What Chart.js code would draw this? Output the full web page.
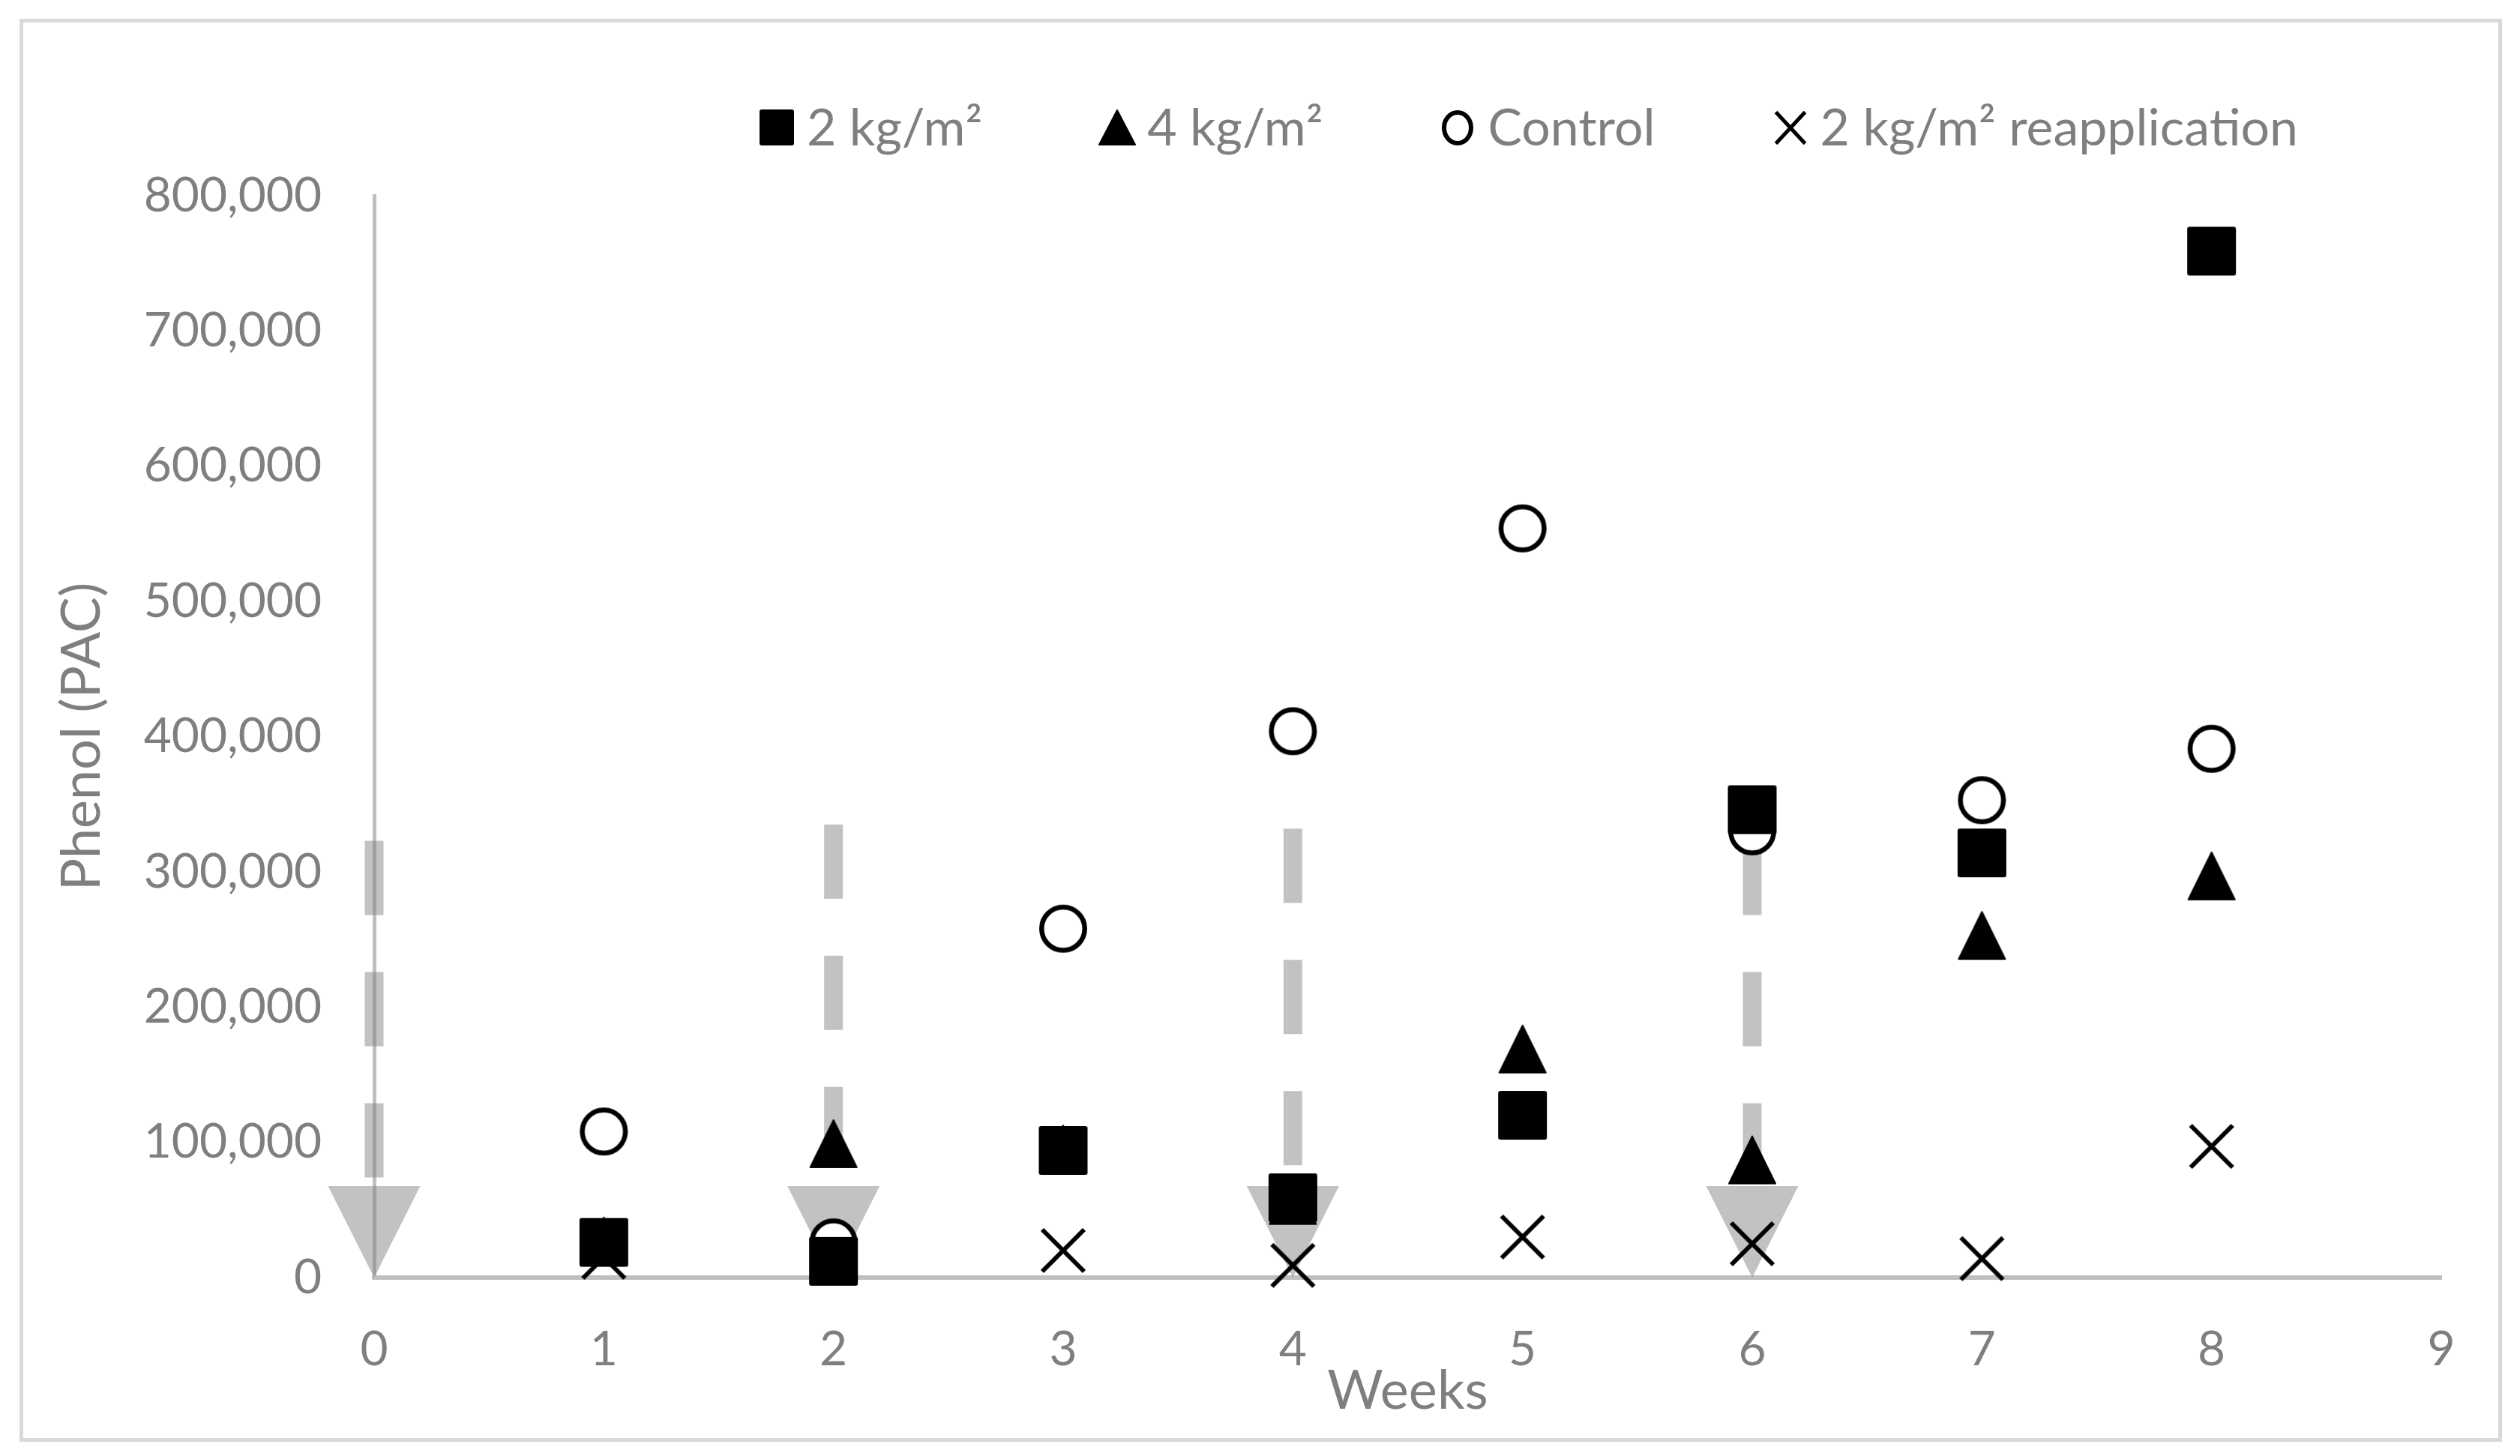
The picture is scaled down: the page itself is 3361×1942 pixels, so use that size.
<!DOCTYPE html>
<html>
<head>
<meta charset="utf-8">
<script src="https://cdn.jsdelivr.net/npm/chart.js@4.4.1/dist/chart.umd.min.js"></script>
<style>
  html, body { margin: 0; padding: 0; background: #fff; }
  canvas { display: block; }
</style>
</head>
<body>
<canvas id="phenolChart" width="3361" height="1942"></canvas>
<script>
// values (phenol, PAC)
const weeks = [1, 2, 3, 4, 5, 6, 7, 8];
const phenol2kg = [26000, 12000, 94000, 59000, 120000, 346000, 314000, 759000];
const phenol4kg = [27000, 99000, 95000, 57000, 169000, 87000, 253000, 297000];
const phenolControl = [108000, 26000, 258000, 404000, 554000, 330000, 353000, 391000];
const phenolReapp = [15000, null, 20000, 9000, 30000, 25000, 14000, 97000];

const seriesNames = ['2 kg/m²', '4 kg/m²', 'Control', '2 kg/m² reapplication'];
const xTicks = [0, 1, 2, 3, 4, 5, 6, 7, 8, 9];
const yTicks = [0, 100000, 200000, 300000, 400000, 500000, 600000, 700000, 800000];

// weeks when biochar was applied (grey arrows) and where each arrow starts
const applicationWeeks = [0, 2, 4, 6];
const applicationTops = [323000, 335000, 332000, 323000];

const GREY_TEXT = '#7f7f7f';

function makeMarker(kind, w, h, line) {
  const c = document.createElement('canvas');
  c.width = Math.ceil(w) + 4;
  c.height = Math.ceil(h) + 4;
  const g = c.getContext('2d');
  g.translate(c.width / 2, c.height / 2);
  g.fillStyle = '#000';
  g.strokeStyle = '#000';
  g.lineWidth = line;
  if (kind === 'square') {
    g.beginPath();
    g.roundRect(-w / 2, -h / 2, w, h, 3);
    g.fill();
  } else if (kind === 'triangle') {
    g.lineJoin = 'round';
    g.lineWidth = 2;
    g.beginPath();
    g.moveTo(0, -h / 2 + 1);
    g.lineTo(w / 2 - 1, h / 2 - 1);
    g.lineTo(-w / 2 + 1, h / 2 - 1);
    g.closePath();
    g.fill();
    g.stroke();
  } else if (kind === 'circle') {
    g.beginPath();
    g.ellipse(0, 0, w / 2 - line / 2, h / 2 - line / 2, 0, 0, Math.PI * 2);
    g.fillStyle = '#fff';
    g.fill();
    g.stroke();
  } else {
    const dx = w / 2 - line / 2, dy = h / 2 - line / 2;
    g.beginPath();
    g.moveTo(-dx, -dy); g.lineTo(dx, dy);
    g.moveTo(dx, -dy); g.lineTo(-dx, dy);
    g.stroke();
  }
  return c;
}

const plotMarkers = [
  makeMarker('square', 65, 65, 0),
  makeMarker('triangle', 64, 65, 0),
  makeMarker('circle', 64, 64, 6.5),
  makeMarker('cross', 62, 62, 6)
];
const legendMarkers = [
  makeMarker('square', 46, 48, 0),
  makeMarker('triangle', 50, 48, 0),
  makeMarker('circle', 42, 47, 6),
  makeMarker('cross', 44, 47, 5)
];

function toPoints(values) {
  return weeks.map((w, i) => ({x: w, y: values[i]})).filter(p => p.y !== null);
}

const frame = {
  id: 'frame',
  beforeDraw(chart) {
    const ctx = chart.ctx;
    ctx.save();
    ctx.fillStyle = '#fff';
    ctx.fillRect(0, 0, chart.width, chart.height);
    ctx.strokeStyle = '#d9d9d9';
    ctx.lineWidth = 5;
    ctx.strokeRect(28.5, 27.5, 3306, 1893);
    ctx.restore();
  }
};

const applicationArrows = {
  id: 'applicationArrows',
  beforeDatasetsDraw(chart) {
    const {ctx, scales: {x, y}} = chart;
    const tip = y.getPixelForValue(0);
    const headTop = tip - 122;
    ctx.save();
    ctx.fillStyle = 'rgba(128,128,128,0.48)';
    ctx.strokeStyle = 'rgba(128,128,128,0.48)';
    applicationWeeks.forEach((w, i) => {
      const px = x.getPixelForValue(w);
      ctx.lineWidth = 25;
      ctx.setLineDash([99, 76]);
      ctx.beginPath();
      ctx.moveTo(px, y.getPixelForValue(applicationTops[i]));
      ctx.lineTo(px, headTop);
      ctx.stroke();
      ctx.setLineDash([]);
      ctx.beginPath();
      ctx.moveTo(px - 61.5, headTop);
      ctx.lineTo(px + 61.5, headTop);
      ctx.lineTo(px, tip);
      ctx.closePath();
      ctx.fill();
    });
    ctx.restore();
  }
};

const seriesLegend = {
  id: 'seriesLegend',
  afterDraw(chart) {
    const ctx = chart.ctx;
    ctx.save();
    ctx.font = '68px Lato';
    ctx.fillStyle = GREY_TEXT;
    ctx.textBaseline = 'alphabetic';
    let cx = 1036;
    chart.data.datasets.forEach((ds, i) => {
      const m = legendMarkers[i];
      ctx.drawImage(m, Math.round(cx - m.width / 2), Math.round(170 - m.height / 2));
      const tx = cx + 40;
      ctx.fillText(ds.label, tx, 194);
      cx = tx + ctx.measureText(ds.label).width + 180;
    });
    ctx.restore();
  }
};

function drawChart() {
  const values = [phenol2kg, phenol4kg, phenolControl, phenolReapp];
  const datasets = values.map((v, i) => ({
    label: seriesNames[i],
    data: toPoints(v),
    pointStyle: plotMarkers[i],
    pointRadius: 33,
    showLine: false,
    clip: false
  }));

  new Chart(document.getElementById('phenolChart'), {
    type: 'scatter',
    data: {datasets: datasets},
    options: {
      responsive: false,
      animation: false,
      devicePixelRatio: 1,
      events: [],
      layout: {padding: {left: 67, right: 105, top: 261, bottom: 0}},
      plugins: {legend: {display: false}, tooltip: {enabled: false}},
      scales: {
        x: {
          type: 'linear',
          min: 0,
          max: 9,
          afterBuildTicks: s => { s.ticks = xTicks.map(v => ({value: v})); },
          afterFit: s => { s.height = 238; },
          grid: {display: false, drawTicks: false},
          border: {display: true, color: '#bfbfbf', width: 6},
          ticks: {color: GREY_TEXT, font: {family: 'Lato', size: 64}, padding: 58},
          title: {
            display: true,
            text: 'Weeks',
            color: GREY_TEXT,
            font: {family: 'Lato', size: 72},
            padding: {top: 0, bottom: 43}
          }
        },
        y: {
          type: 'linear',
          min: 0,
          max: 800000,
          afterBuildTicks: s => { s.ticks = yTicks.map(v => ({value: v})); },
          afterFit: s => { s.width = 432; },
          grid: {display: false, drawTicks: false},
          border: {display: true, color: '#bfbfbf', width: 5},
          ticks: {
            color: GREY_TEXT,
            font: {family: 'Lato', size: 64},
            padding: 70,
            callback: v => v.toLocaleString('en-US')
          },
          title: {
            display: true,
            text: 'Phenol (PAC)',
            color: GREY_TEXT,
            font: {family: 'Lato', size: 72},
            padding: {top: 0, bottom: 0}
          }
        }
      }
    },
    plugins: [frame, applicationArrows, seriesLegend]
  });
}

document.fonts.load('68px Lato').then(drawChart, drawChart);
</script>
</body>
</html>
